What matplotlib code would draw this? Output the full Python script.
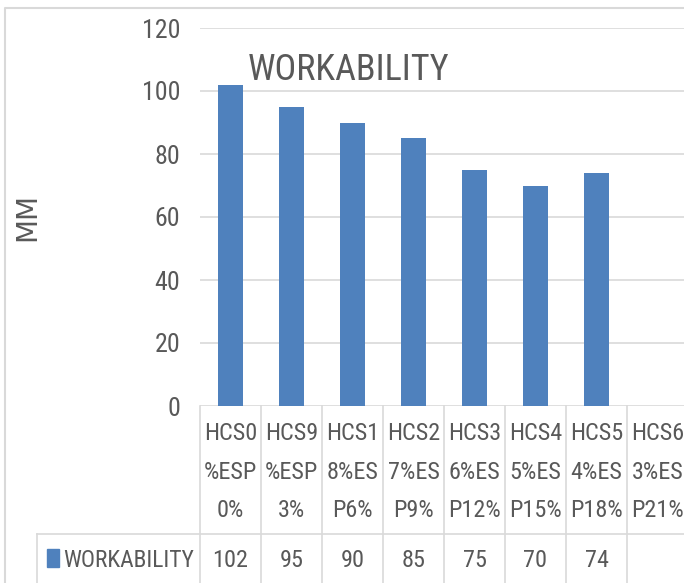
import textwrap
import numpy as np
import matplotlib
matplotlib.use("Agg")
import matplotlib.pyplot as plt
from matplotlib.lines import Line2D
from matplotlib.patches import Rectangle
from matplotlib import font_manager as fm
from matplotlib.font_manager import FontProperties
from matplotlib.textpath import TextPath

categories = ["HCS0%ESP0%", "HCS9%ESP3%", "HCS18%ESP6%", "HCS27%ESP9%",
              "HCS36%ESP12%", "HCS45%ESP15%", "HCS54%ESP18%", "HCS63%ESP21%"]
workability = [102, 95, 90, 85, 75, 70, 74, np.nan]
series_name = "WORKABILITY"
y_ticks = [0, 20, 40, 60, 80, 100, 120]
title = "WORKABILITY"
y_label = "MM"

# ---- pick the narrowest available sans font ----
names = {f.name for f in fm.fontManager.ttflist}
FAM, STRETCH = None, 'normal'
for cand in ['Liberation Sans Narrow', 'Roboto Condensed', 'DejaVu Sans Condensed',
             'Open Sans Condensed', 'Arial Narrow']:
    if cand in names:
        FAM = cand
        break
if FAM is None:
    if any(f.name == 'DejaVu Sans' and str(f.stretch) in ('condensed', 'semi-condensed')
           for f in fm.fontManager.ttflist):
        FAM, STRETCH = 'DejaVu Sans', 'condensed'
    else:
        FAM = 'Liberation Sans'
plt.rcParams['font.family'] = [FAM, 'DejaVu Sans']
plt.rcParams['font.stretch'] = STRETCH


def fit(s, wpx, hpx, fam=None):
    fp = FontProperties(family=fam or FAM, stretch=STRETCH if fam is None else 'normal', size=10)
    w = TextPath((0, 0), s, prop=fp).get_extents().width
    h = TextPath((0, 0), 'H', prop=fp).get_extents().height
    return min(10 * wpx * 0.72 / w, 10 * hpx * 0.72 / h)


TXT = '#595959'
GRID = '#D9D9D9'
BAR = '#4F81BD'

W, H = 684, 583
fig = plt.figure(figsize=(W / 100, H / 100), dpi=100)


def fx(px):
    return px / W


def fy(py):
    return 1 - py / H


ax_left, ax_right, ax_top, ax_bottom = 200, 688, 28, 406
ax = fig.add_axes([fx(ax_left), fy(ax_bottom), (ax_right - ax_left) / W,
                   (ax_bottom - ax_top) / H])
x = np.arange(len(categories))
ax.bar(x, workability, width=0.4, color=BAR, zorder=3)
ax.set_xlim(-0.5, len(categories) - 0.5)
ax.set_ylim(0, 120)
ax.set_yticks(y_ticks)
ax.set_xticks([])
ax.grid(axis='y', color=GRID, lw=1.2, zorder=0)
for s in ax.spines.values():
    s.set_visible(False)
tick_size = fit("120", 37, 18.5)
ax.tick_params(axis='y', length=0, pad=14.4, labelsize=tick_size, labelcolor=TXT)

# y label
fig.text(fx(27), fy(217), y_label, rotation=90, fontsize=20, color=TXT,
         ha='center', va='center', family=['DejaVu Sans'])

# title
fig.text(fx(248), fy(80), title, fontsize=fit(title, 200, 27.5), color=TXT,
         ha='left', va='baseline')

# data table axes
tax = fig.add_axes([fx(ax_left), 0, (ax_right - ax_left) / W, (H - ax_bottom) / H])
tax.set_xlim(-0.5, len(categories) - 0.5)
tax.set_ylim(H - ax_bottom, 0)
tax.axis('off')
for i in range(len(categories) + 1):
    tax.plot([i - 0.5, i - 0.5], [0, H - ax_bottom], color=GRID, lw=1.2, clip_on=False)

cat_size = fit("HCS0", 50, 18.5)
val_size = fit("102", 33, 18.5)
line_base = [440, 479, 517]
for i, c in enumerate(categories):
    for j, part in enumerate(textwrap.wrap(c, 4)):
        tax.text(i, line_base[j] - ax_bottom, part, ha='center', va='baseline',
                 fontsize=cat_size, color=TXT)
    v = workability[i]
    if not np.isnan(v):
        tax.text(i, 567 - ax_bottom, f"{v:g}", ha='center', va='baseline',
                 fontsize=val_size, color=TXT)

# table row border lines & legend cell
fig.add_artist(Line2D([fx(37), fx(690)], [fy(534), fy(534)], color=GRID, lw=1.2))
fig.add_artist(Line2D([fx(37), fx(37)], [fy(534), fy(590)], color=GRID, lw=1.2))
fig.add_artist(Rectangle((fx(47), fy(567)), 12 / W, 18 / H, color=BAR))
fig.text(fx(63), fy(567), series_name, fontsize=fit(series_name, 130, 20), color=TXT,
         ha='left', va='baseline')

# outer chart border
fig.add_artist(Line2D([fx(5), fx(5), fx(690)], [fy(590), fy(8), fy(8)], color=GRID, lw=1.5))

fig.savefig("out.png", dpi=100)
